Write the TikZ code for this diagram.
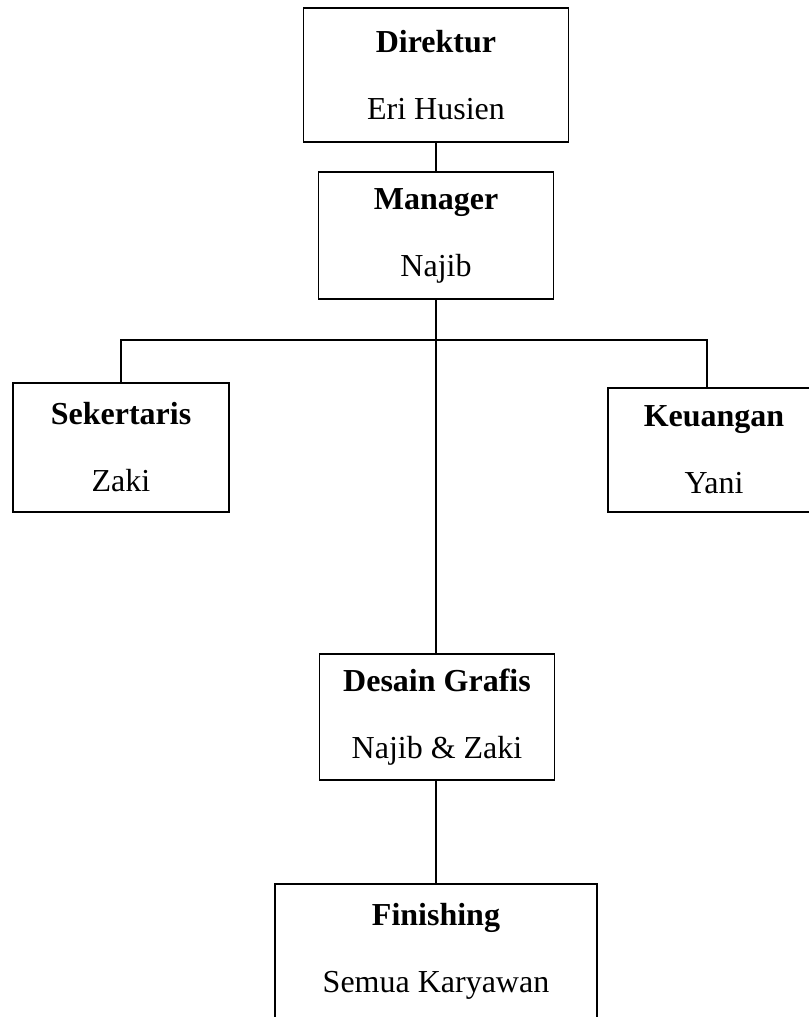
\documentclass[tikz,border=0pt]{standalone}
\usepackage{fontspec}
\setmainfont{Liberation Serif}
\usepackage{tikz}
\usetikzlibrary{positioning, calc}

\begin{document}
\begin{tikzpicture}[
    x=0.75pt,
    y=-0.75pt,
    line width=1.1pt,
    jabatan/.style={draw, rectangle, align=center, inner sep=0pt,
        font=\fontsize{24}{50.25}\selectfont}
]
    \useasboundingbox (0,0) rectangle (809,1017);

    % Kotak jabatan
    \node[jabatan, minimum width=198.75pt, minimum height=100.5pt] (direktur) at (436,75)
        {\textbf{Direktur}\\Eri Husien};
    \node[jabatan, minimum width=176.25pt, minimum height=95.25pt] (manager) at (436,235.5)
        {\textbf{Manager}\\Najib};
    \node[jabatan, minimum width=162pt, minimum height=96.75pt] (sekertaris) at (121,447.5)
        {\textbf{Sekertaris}\\Zaki};
    \node[jabatan, minimum width=159pt, minimum height=93pt] (keuangan) at (714,450)
        {\textbf{Keuangan}\\Yani};
    \node[jabatan, minimum width=176.25pt, minimum height=94.5pt] (desain) at (437,717)
        {\textbf{Desain Grafis}\\Najib \& Zaki};
    \node[jabatan, minimum width=241.5pt, minimum height=100.5pt] (finishing) at (436,951)
        {\textbf{Finishing}\\Semua Karyawan};

    % Garis
    \coordinate (kanan) at (707,340);
    \draw (direktur) -- (manager);
    \draw (manager.south) -- (manager.south |- desain.north);
    \draw (sekertaris.north) |- (kanan) -- (kanan |- keuangan.north);
    \draw (desain.south -| finishing.north) -- (finishing.north);
\end{tikzpicture}
\end{document}
